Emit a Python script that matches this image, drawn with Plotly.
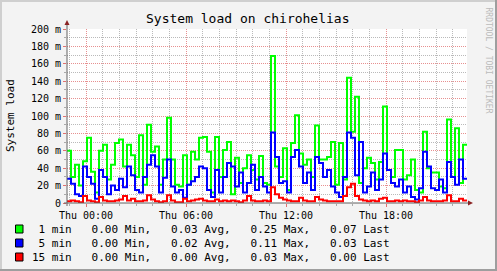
import plotly.graph_objects as go

# ---- data (milli-load units), 100 consolidated samples, 14.4 min apart ----
start_hour = -1.14   # hours relative to Thu 00:00
step_hours = 0.24

load_1min = [60, 30, 44, 20, 48, 75, 36, 12, 60, 67,
             27, 44, 69, 73, 42, 67, 55, 30, 78, 21,
             90, 59, 65, 21, 50, 98, 50, 21, 19, 55,
             21, 59, 50, 75, 76, 59, 12, 76, 30, 61,
             70, 10, 52, 23, 40, 55, 38, 27, 54, 23,
             21, 169, 42, 30, 63, 15, 69, 101, 57, 44,
             50, 30, 89, 50, 50, 53, 70, 21, 69, 27,
             144, 82, 122, 23, 40, 52, 46, 27, 47, 111,
             38, 30, 61, 61, 27, 32, 50, 15, 12, 82,
             40, 35, 35, 19, 17, 96, 30, 86, 23, 67]

load_5min = [28, 22, 10, 8, 42, 30, 22, 5, 38, 30,
             10, 20, 15, 28, 18, 42, 32, 15, 12, 30,
             44, 55, 42, 12, 29, 50, 19, 12, 15, 6,
             21, 25, 30, 42, 40, 15, 7, 38, 12, 30,
             46, 42, 19, 35, 12, 23, 44, 15, 30, 19,
             12, 81, 53, 23, 25, 12, 53, 61, 42, 23,
             35, 15, 53, 46, 30, 38, 19, 12, 7, 30,
             81, 75, 32, 70, 12, 19, 35, 15, 27, 57,
             38, 23, 19, 27, 12, 19, 7, 4, 17, 59,
             42, 17, 15, 27, 12, 47, 30, 21, 50, 28]

load_15min = [2, 3, 2, 1, 8, 3, 2, 1, 7, 3,
              2, 2, 3, 4, 8, 3, 5, 2, 2, 3,
              9, 4, 2, 1, 2, 9, 3, 1, 1, 5,
              2, 3, 4, 5, 3, 2, 2, 4, 2, 3,
              2, 3, 2, 1, 3, 8, 3, 2, 2, 3,
              2, 18, 10, 6, 4, 3, 2, 2, 6, 3,
              2, 2, 7, 4, 3, 2, 2, 2, 2, 8,
              18, 22, 8, 4, 3, 2, 3, 2, 5, 6,
              2, 2, 3, 2, 3, 2, 2, 1, 3, 7,
              3, 2, 2, 2, 3, 9, 2, 2, 5, 3]

series_names = ["1 min", "5 min", "15 min"]
series_colors = ["#00FF00", "#0000FF", "#FF0000"]
legend_lines = [" 1 min   0.00 Min,   0.03 Avg,   0.25 Max,   0.07 Last",
                " 5 min   0.00 Min,   0.02 Avg,   0.11 Max,   0.03 Last",
                "15 min   0.00 Min,   0.00 Avg,   0.03 Max,   0.00 Last"]

y_tickvals = [0, 20, 40, 60, 80, 100, 120, 140, 160, 180, 200]
y_ticktext = ["0", "20 m", "40 m", "60 m", "80 m", "100 m", "120 m",
              "140 m", "160 m", "180 m", "200 m"]
x_tickvals = [0, 6, 12, 18]
x_ticktext = ["Thu 00:00", "Thu 06:00", "Thu 12:00", "Thu 18:00"]

title_text = "System load on chirohelias"
y_title = "System load"
watermark = "RRDTOOL / TOBI OETIKER"

# ---- figure ----
W, H = 497, 271
L, R, T, B = 67, 30, 29, 68
PW, PH = W - L - R, H - T - B

def px(x):
    return (x - L) / PW

def py(y):
    return (H - B - y) / PH

n = len(load_1min)
times = [start_hour + step_hours * i for i in range(n + 1)]
x_end = times[-1]

fig = go.Figure()
for vals, name, col in zip([load_1min, load_5min, load_15min], series_names, series_colors):
    fig.add_trace(go.Scatter(
        x=times, y=vals + [vals[-1]], mode="lines", name=name,
        line=dict(color=col, width=2, shape="hv"), showlegend=False,
        hoverinfo="skip"))

mono = "DejaVu Sans Mono"
major_grid = "rgba(215,70,70,0.6)"
minor_grid = "rgba(140,140,140,0.6)"
dotted = "1px,1px"
fig.update_layout(
    width=W, height=H,
    margin=dict(l=L, r=R, t=T, b=B, pad=0),
    paper_bgcolor="#F3F3F3", plot_bgcolor="#FFFFFF",
    template="none",
    font=dict(family=mono, size=10, color="#000000"),
    showlegend=False,
    xaxis=dict(range=[start_hour, x_end], tickmode="linear", tick0=0, dtick=6,
               labelalias={str(v): t for v, t in zip(x_tickvals, x_ticktext)},
               showgrid=True, gridcolor=major_grid, griddash=dotted, gridwidth=1,
               minor=dict(dtick=1, tick0=0, showgrid=True, gridcolor=minor_grid,
                          griddash=dotted, gridwidth=1, ticks="outside", ticklen=2,
                          tickcolor="rgba(150,150,150,0.8)"),
               ticks="outside", ticklen=3, tickcolor="rgba(220,80,80,0.8)",
               zeroline=False, showline=False, fixedrange=True,
               tickfont=dict(family=mono, size=10)),
    yaxis=dict(range=[0, 200], tickmode="linear", tick0=0, dtick=20,
               labelalias={str(v): t for v, t in zip(y_tickvals, y_ticktext)},
               showgrid=True, gridcolor=major_grid, griddash=dotted, gridwidth=1,
               minor=dict(dtick=10, tick0=0, showgrid=True, gridcolor=minor_grid,
                          griddash=dotted, gridwidth=1, ticks="outside", ticklen=2,
                          tickcolor="rgba(150,150,150,0.8)"),
               ticks="outside", ticklen=3, tickcolor="rgba(220,80,80,0.8)",
               zeroline=False, showline=False, fixedrange=True,
               tickfont=dict(family=mono, size=10)),
)

shapes = []
# frame shading
shapes.append(dict(type="rect", xref="paper", yref="paper", x0=px(0), x1=px(W), y0=py(0), y1=py(2),
                   fillcolor="#CFCFCF", line=dict(width=0), layer="above"))
shapes.append(dict(type="rect", xref="paper", yref="paper", x0=px(0), x1=px(2), y0=py(0), y1=py(H),
                   fillcolor="#CFCFCF", line=dict(width=0), layer="above"))
shapes.append(dict(type="rect", xref="paper", yref="paper", x0=px(0), x1=px(W), y0=py(H - 2), y1=py(H),
                   fillcolor="#9E9E9E", line=dict(width=0), layer="above"))
shapes.append(dict(type="rect", xref="paper", yref="paper", x0=px(W - 2), x1=px(W), y0=py(0), y1=py(H),
                   fillcolor="#9E9E9E", line=dict(width=0), layer="above"))
# axes with arrows
shapes.append(dict(type="line", xref="paper", yref="paper", x0=0, x1=0, y0=py(206), y1=py(23),
                   line=dict(color="#606060", width=1), layer="above"))
shapes.append(dict(type="line", xref="paper", yref="paper", x0=px(64), x1=px(470), y0=0, y1=0,
                   line=dict(color="#606060", width=1), layer="above"))
shapes.append(dict(type="path", xref="paper", yref="paper",
                   path=f"M {px(64.5)} {py(25)} L {px(69.5)} {py(25)} L {px(67)} {py(20)} Z",
                   fillcolor="#8B2323", line=dict(width=0), layer="above"))
shapes.append(dict(type="path", xref="paper", yref="paper",
                   path=f"M {px(468)} {py(200.5)} L {px(468)} {py(205.5)} L {px(473)} {py(203)} Z",
                   fillcolor="#8B2323", line=dict(width=0), layer="above"))
# legend colour boxes
rows_y = [229, 243, 257]
for ry, col in zip(rows_y, series_colors):
    shapes.append(dict(type="rect", xref="paper", yref="paper",
                       x0=px(15.5), x1=px(23), y0=py(ry - 4), y1=py(ry + 4),
                       fillcolor=col, line=dict(color="#000000", width=1), layer="above"))
fig.update_layout(shapes=shapes)

ann = []
ann.append(dict(text=title_text, xref="paper", yref="paper", x=px(248), y=py(19),
                xanchor="center", yanchor="middle", showarrow=False,
                font=dict(family=mono, size=13, color="#000000")))
ann.append(dict(text=y_title, xref="paper", yref="paper", x=px(11), y=py(115),
                xanchor="center", yanchor="middle", showarrow=False, textangle=-90,
                font=dict(family=mono, size=11, color="#000000")))
ann.append(dict(text=watermark, xref="paper", yref="paper", x=px(487.5), y=py(60),
                xanchor="center", yanchor="middle", showarrow=False, textangle=90,
                font=dict(family=mono, size=8, color="#BBBBBB")))
for ry, line in zip(rows_y, legend_lines):
    ann.append(dict(text=line.replace(" ", "&nbsp;"), xref="paper", yref="paper",
                    x=px(30), y=py(ry), xanchor="left", yanchor="middle", showarrow=False,
                    font=dict(family=mono, size=11, color="#000000")))
fig.update_layout(annotations=ann)

fig.write_html("out.html")
